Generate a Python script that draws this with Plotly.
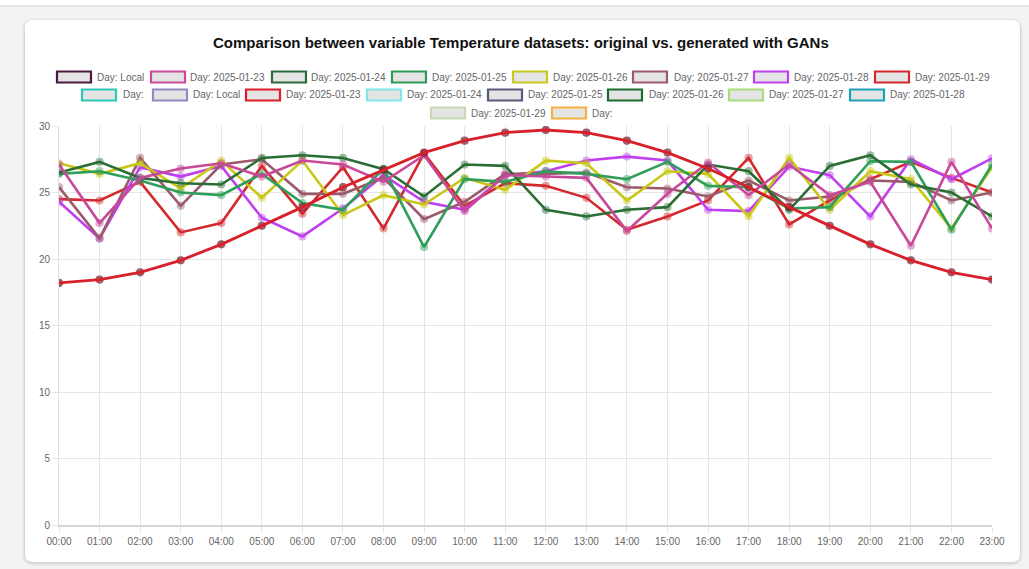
import plotly.graph_objects as go

# ---------------- data ----------------
hours = ["00:00", "01:00", "02:00", "03:00", "04:00", "05:00", "06:00", "07:00",
         "08:00", "09:00", "10:00", "11:00", "12:00", "13:00", "14:00", "15:00",
         "16:00", "17:00", "18:00", "19:00", "20:00", "21:00", "22:00", "23:00"]

local = [18.2, 18.45, 19.0, 19.9, 21.1, 22.5, 23.9, 25.4, 26.7, 28.0, 28.9, 29.5,
         29.7, 29.5, 28.9, 28.0, 26.8, 25.4, 23.9, 22.5, 21.1, 19.9, 19.0, 18.45]
d_0123 = [27.1, 22.7, 26.1, 26.8, 27.2, 26.2, 27.4, 27.1, 25.8, 27.8, 23.6, 26.3,
          26.2, 26.1, 22.1, 24.9, 27.25, 24.8, 27.1, 24.8, 25.8, 21.0, 27.3, 22.3]
d_0124 = [26.5, 27.3, 26.1, 25.7, 25.6, 27.6, 27.8, 27.6, 26.75, 24.7, 27.1, 27.0,
          23.7, 23.2, 23.7, 23.9, 27.1, 26.6, 23.7, 27.0, 27.8, 25.6, 25.0, 23.2]
d_0125 = [26.4, 26.6, 25.9, 25.0, 24.8, 26.4, 24.2, 23.7, 26.8, 20.9, 26.0, 25.8,
          26.6, 26.4, 26.0, 27.3, 25.5, 25.4, 23.8, 23.9, 27.35, 27.3, 22.2, 27.1]
d_0126 = [27.2, 26.4, 27.2, 25.3, 27.4, 24.6, 27.4, 23.3, 24.8, 24.1, 26.1, 25.2,
          27.4, 27.2, 24.4, 26.6, 26.4, 23.2, 27.6, 23.7, 26.6, 26.0, 22.3, 26.9]
d_0127 = [25.4, 21.55, 27.6, 24.0, 27.1, 27.5, 24.9, 24.9, 26.1, 23.0, 24.3, 26.4,
          26.4, 26.5, 25.4, 25.3, 24.7, 25.9, 24.4, 24.7, 25.9, 25.8, 24.4, 25.0]
d_0128 = [24.3, 21.55, 26.9, 26.2, 27.0, 23.1, 21.7, 23.8, 26.3, 24.3, 23.7, 26.3,
          26.6, 27.4, 27.7, 27.4, 23.7, 23.6, 26.95, 26.3, 23.2, 27.5, 26.0, 27.57]
d_0129 = [24.5, 24.4, 25.8, 22.0, 22.7, 27.0, 23.4, 26.9, 22.3, 27.95, 24.0, 25.7,
          25.5, 24.6, 22.2, 23.2, 24.4, 27.6, 22.6, 24.4, 26.0, 27.3, 26.1, 25.0]

legend_labels = ["Day: Local", "Day: 2025-01-23", "Day: 2025-01-24", "Day: 2025-01-25",
                 "Day: 2025-01-26", "Day: 2025-01-27", "Day: 2025-01-28", "Day: 2025-01-29",
                 "Day:", "Day: Local", "Day: 2025-01-23", "Day: 2025-01-24",
                 "Day: 2025-01-25", "Day: 2025-01-26", "Day: 2025-01-27", "Day: 2025-01-28",
                 "Day: 2025-01-29", "Day:"]
legend_colors = ["#4a1a40", "#c94c9c", "#2b6a3a", "#2e9a55", "#c8c81e", "#9c5a6a",
                 "#c040f0", "#d42a2e",
                 "#2ec8b8", "#8c8cc0", "#e01c28", "#80e4ec", "#585878", "#1d6b2a",
                 "#a8dc7c", "#1aa4b4", "#c8d8b8", "#f8b040"]

# ---------------- layout helpers ----------------
W, H = 1029, 569
L, R, T, B = 59, 992, 126, 525


def px(x):
    return (x - L) / (R - L)


def py(y):
    return (B - y) / (B - T)


def rounded_rect(x0, y0, x1, y1, r):
    rx = r / (R - L)
    ry = r / (B - T)
    X0, X1 = px(x0), px(x1)
    Y0, Y1 = py(y0), py(y1)  # Y0 top (larger), Y1 bottom
    return (f"M {X0+rx},{Y0} L {X1-rx},{Y0} Q {X1},{Y0} {X1},{Y0-ry} "
            f"L {X1},{Y1+ry} Q {X1},{Y1} {X1-rx},{Y1} L {X0+rx},{Y1} "
            f"Q {X0},{Y1} {X0},{Y1+ry} L {X0},{Y0-ry} Q {X0},{Y0} {X0+rx},{Y0} Z")


fig = go.Figure()


def add_series(y, color, width=2.6, mode="lines+markers"):
    fig.add_trace(go.Scatter(
        x=hours, y=y, mode=mode,
        line=dict(color=color, width=width),
        marker=dict(size=7, color=color, opacity=0.45,
                    line=dict(color=color, width=1.2)),
        showlegend=False, hoverinfo="x+y"))


# jagged generated series
add_series(d_0129, "#d42a2e")
add_series(d_0128, "#c040f0")
add_series(d_0127, "#9a5a6a")
add_series(d_0126, "#c8c814")
add_series(d_0125, "#2e9e58")
add_series(d_0124, "#2a6e36")
add_series(d_0123, "#c8489a")
# original (local) curve
fig.add_trace(go.Scatter(x=hours, y=local, mode="markers",
                         marker=dict(size=7, color="#8a1a2a", opacity=0.7,
                                     line=dict(color="#6a1a30", width=1.2)),
                         showlegend=False, hoverinfo="x+y"))
fig.add_trace(go.Scatter(x=hours, y=local, mode="lines",
                         line=dict(color="#d8202a", width=2.8),
                         showlegend=False, hoverinfo="x+y"))

shapes = []
# top strip + shadow
shapes.append(dict(type="rect", xref="paper", yref="paper",
                   x0=px(0), x1=px(W), y0=py(7), y1=py(5),
                   fillcolor="rgba(0,0,0,0.04)", line=dict(width=0), layer="below"))
shapes.append(dict(type="rect", xref="paper", yref="paper",
                   x0=px(0), x1=px(W), y0=py(5), y1=py(0),
                   fillcolor="white", line=dict(width=0), layer="below"))
# card shadow
for i, a in enumerate([0.025, 0.035, 0.05]):
    d = 3 - i
    shapes.append(dict(type="path", xref="paper", yref="paper",
                       path=rounded_rect(25 - d, 20 - d + 1, 1020 + d, 562 + d + 1, 9 + d),
                       fillcolor=f"rgba(0,0,0,{a})", line=dict(width=0), layer="below"))
# card
shapes.append(dict(type="path", xref="paper", yref="paper",
                   path=rounded_rect(25, 20, 1020, 562, 8),
                   fillcolor="white", line=dict(width=0), layer="below"))

# custom legend
legend_pos = [
    (56, 95, 77), (150, 188, 77), (271, 309, 77), (391, 430, 77),
    (512, 551, 77), (632, 672, 77), (753, 792, 77), (874, 913, 77),
    (81, 121, 95), (152, 191, 95), (245, 284, 95), (366, 405, 95),
    (487, 526, 95), (607, 647, 95), (728, 767, 95), (849, 888, 95),
    (430, 469, 113), (551, 590, 113),
]
annotations = []
for (bx, tx, cy), lab, col in zip(legend_pos, legend_labels, legend_colors):
    shapes.append(dict(type="rect", xref="paper", yref="paper",
                       x0=px(bx + 1), x1=px(bx + 35), y0=py(cy - 5.5), y1=py(cy + 5.5),
                       fillcolor="#e4e4e4", line=dict(color=col, width=2.2)))
    annotations.append(dict(xref="paper", yref="paper", x=px(tx), y=py(cy),
                            xanchor="left", yanchor="middle", showarrow=False,
                            text=lab, font=dict(family="Liberation Sans, Arial", size=10,
                                                color="#666666")))

annotations.append(dict(xref="paper", yref="paper", x=px(521), y=py(42),
                        xanchor="center", yanchor="middle", showarrow=False,
                        text="<b>Comparison between variable Temperature datasets: original vs. generated with GANs</b>",
                        font=dict(family="Liberation Sans, Arial", size=15, color="#111111")))

fig.update_layout(
    width=W, height=H,
    margin=dict(l=L, r=W - R, t=T, b=H - B, pad=0),
    paper_bgcolor="#f3f3f3",
    plot_bgcolor="white",
    shapes=shapes,
    annotations=annotations,
    showlegend=False,
    font=dict(family="Liberation Sans, Arial", size=10, color="#666666"),
)
fig.update_xaxes(type="category", categoryorder="array", categoryarray=hours,
                 range=[0, 23], showgrid=True, gridcolor="#e6e6e6", gridwidth=1,
                 showline=True, linecolor="#d6d6d6", linewidth=1.5,
                 ticks="outside", ticklen=6, tickcolor="#e6e6e6",
                 tickfont=dict(size=10, color="#666666"), zeroline=False, fixedrange=True)
fig.update_yaxes(range=[0, 30], dtick=5, showgrid=True, gridcolor="#e6e6e6", gridwidth=1,
                 showline=True, linecolor="#e0e0e0", linewidth=1,
                 ticks="outside", ticklen=6, tickcolor="#e6e6e6",
                 tickfont=dict(size=10, color="#666666"), zeroline=False, fixedrange=True)

fig.write_html("out.html", config={"displayModeBar": False},
               post_script="document.body.style.margin='0';document.body.style.overflow='hidden';")
